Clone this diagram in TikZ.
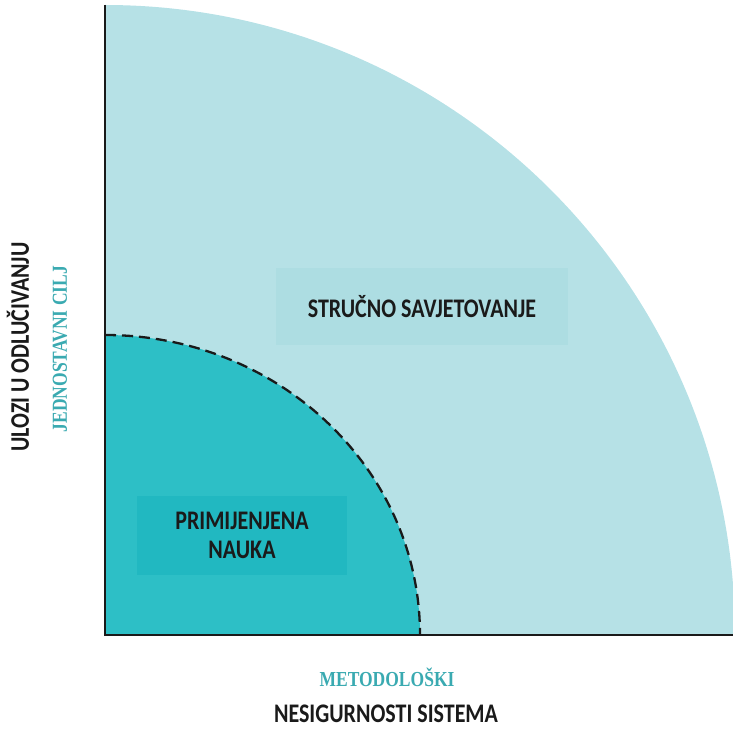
\documentclass[tikz,border=0pt]{standalone}
\usepackage{fontspec}
\setmainfont{Carlito}
\newfontfamily\titlefont{Liberation Serif}
\usetikzlibrary{positioning}
\definecolor{outerfill}{HTML}{B6E1E6}
\definecolor{outerbox}{HTML}{ADDDE2}
\definecolor{innerfill}{HTML}{2DBFC6}
\definecolor{innerbox}{HTML}{21B8C1}
\definecolor{tealtext}{HTML}{3AAAB1}
\definecolor{darktext}{HTML}{1A1A1A}
\newcommand{\tallt}[1]{\scalebox{1}[1.22]{#1}}

\begin{document}
\begin{tikzpicture}[
                    x = 1pt, y = -1pt,
                    align = center,
                    axis/.style = {draw = darktext, line width = 2.5pt},
                    border/.style = {draw = darktext, line width = 2.3pt, dash pattern = on 11pt off 6pt},
                    areabox/.style = {inner sep = 0pt, text = darktext, font = \bfseries\fontsize{22}{29}\selectfont},
                    axisname/.style = {inner sep = 1pt, text = darktext, font = \bfseries\fontsize{22}{26}\selectfont},
                    axistag/.style = {inner sep = 1pt, text = tealtext, font = \titlefont\bfseries\fontsize{17.5}{20}\selectfont}]
                \useasboundingbox (0,0) rectangle (733,730);
                \coordinate (origin) at (105,635);
                \coordinate (ytop)   at (105,5);
                \coordinate (xend)   at (733,635);
                \coordinate (itop)   at (105,335);
                % areas
                \fill[outerfill] (origin) -- (ytop) arc [start angle = -90, end angle = 0, radius = 630] -- cycle;
                \fill[innerfill] (origin) -- (itop) arc [start angle = -90, end angle = 0, x radius = 315, y radius = 300] -- cycle;
                \draw[border] (itop) arc [start angle = -90, end angle = 0, x radius = 315, y radius = 300];
                \draw[axis] (ytop) -- (origin) -- (xend);
                % boxes
                \node[areabox, fill = outerbox, minimum width = 292pt, minimum height = 77pt] (strucno) at (422,306.5) {\tallt{STRUČNO SAVJETOVANJE}};
                \node[areabox, fill = innerbox, minimum width = 210pt, minimum height = 79pt] (nauka)   at (242,535.5) {\tallt{PRIMIJENJENA}\\\tallt{NAUKA}};
                % axis labels
                \node[axistag]  (metod)  at (387,677) {\tallt{METODOLOŠKI}};
                \node[axisname] (nesig)  at (386,714) {\tallt{NESIGURNOSTI SISTEMA}};
                \node[axistag, rotate = 90]  (cilj)  at (60,349) {\tallt{JEDNOSTAVNI CILJ}};
                \node[axisname, rotate = 90] (ulozi) at (18,347) {\tallt{ULOZI U ODLUČIVANJU}};
            \end{tikzpicture}
\end{document}
